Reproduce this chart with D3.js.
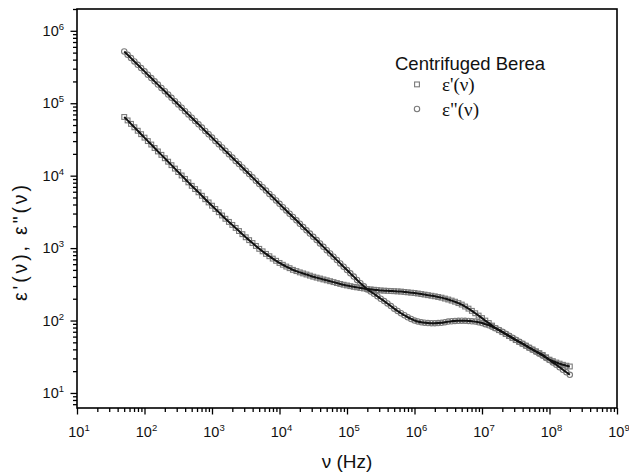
<!DOCTYPE html>
<html><head><meta charset="utf-8">
<script src="https://cdn.jsdelivr.net/npm/d3@7"></script>
<style>body{margin:0;background:#fff}svg{display:block}</style>
</head><body>
<svg id="c" width="629" height="475"></svg>
<script>
// Frequency sweep (Hz)
const freq=[5.01e1,5.62e1,6.31e1,7.08e1,7.94e1,8.91e1,
1.0e2,1.12e2,1.26e2,1.41e2,1.58e2,1.78e2,2.0e2,2.24e2,2.51e2,2.82e2,3.16e2,3.55e2,3.98e2,4.47e2,5.01e2,5.62e2,6.31e2,7.08e2,7.94e2,8.91e2,
1.0e3,1.12e3,1.26e3,1.41e3,1.58e3,1.78e3,2.0e3,2.24e3,2.51e3,2.82e3,3.16e3,3.55e3,3.98e3,4.47e3,5.01e3,5.62e3,6.31e3,7.08e3,7.94e3,8.91e3,
1.0e4,1.12e4,1.26e4,1.41e4,1.58e4,1.78e4,2.0e4,2.24e4,2.51e4,2.82e4,3.16e4,3.55e4,3.98e4,4.47e4,5.01e4,5.62e4,6.31e4,7.08e4,7.94e4,8.91e4,
1.0e5,1.12e5,1.26e5,1.41e5,1.58e5,1.78e5,2.0e5,2.24e5,2.51e5,2.82e5,3.16e5,3.55e5,3.98e5,4.47e5,5.01e5,5.62e5,6.31e5,7.08e5,7.94e5,8.91e5,
1.0e6,1.12e6,1.26e6,1.41e6,1.58e6,1.78e6,2.0e6,2.24e6,2.51e6,2.82e6,3.16e6,3.55e6,3.98e6,4.47e6,5.01e6,5.62e6,6.31e6,7.08e6,7.94e6,8.91e6,
1.0e7,1.12e7,1.26e7,1.41e7,1.58e7,1.78e7,2.0e7,2.24e7,2.51e7,2.82e7,3.16e7,3.55e7,3.98e7,4.47e7,5.01e7,5.62e7,6.31e7,7.08e7,7.94e7,8.91e7,
1.0e8,1.12e8,1.26e8,1.41e8,1.58e8,1.78e8,2.0e8];
// ε'(ν)
const epsReal=[64600,57900,51900,46520,41700,37380,
33500,30020,26900,24100,21600,19390,17400,15590,13960,12520,11220,10060,9020,8080,7240,6530,5890,5280,4730,4270,
3850,3470,3130,2820,2540,2300,2090,1900,1720,1557,1410,1287,1175,1071,977,902,832,772,716,668,
624,589,556,528,501,481,462,447,432,417,403,391,380,369,359,349,339,329,320,312,
305,298,292,287,282,277,272,269,266,263,260,258.5,257,255.5,254,252.5,251,248,245,242.5,
240,236,232,228,224,220,216,211.5,207,201,195,188.5,182,174,166,156,146,136,126,117,
108,99.8,92.3,85.1,78.5,73.7,69.2,65.0,61.0,57.2,53.7,50.7,47.9,45.0,42.2,39.8,37.6,35.5,33.5,31.1,
28.8,27.5,26.3,25.4,24.5,23.8,23.2];
// ε''(ν)
const epsImag=[517600,465800,419800,377800,339600,305600,
275400,247900,222800,200500,180700,162600,146600,131900,118600,106700,96200,86600,77800,70000,63100,56800,51200,46100,41400,37300,
33600,30200,27200,24500,22000,19800,17800,16000,14450,13000,11720,10550,9480,8530,7690,6920,6220,5600,5050,4540,
4080,3670,3310,2980,2690,2420,2170,1950,1760,1585,1430,1290,1160,1040,935,842,759,683,615,553,
498,448,404,363,327,297,269,251,234,216,200,185.5,172,158.5,146,135.6,126,118.3,111,105.4,
100,97.2,94.4,93.3,92.3,92.0,91.8,92.3,92.9,94.7,96.6,97.7,98.9,99.2,99.5,99.2,98.9,97.7,96.6,94.4,
92.3,89.1,86.1,82.2,78.5,74.1,70.0,65.7,61.7,57.9,54.3,51.0,47.9,45.0,42.2,39.6,37.2,34.9,32.7,30.5,
28.5,26.4,24.5,22.6,20.9,19.3,17.8];

const xTickExps=[1,2,3,4,5,6,7,8,9];
const yTickExps=[1,2,3,4,5,6];
const xDomain=[1e1,1e9];
const yDomain=[6.2,2.0e6];
const legendTitle="Centrifuged Berea";
const seriesNames=["ε'(ν)","ε\"(ν)"];
const xTitle="ν (Hz)";
const yTitle="ε'(ν), ε\"(ν)";

const L=77,R=617,T=9,B=408;
const svg=d3.select("#c");
const x=d3.scaleLog().domain(xDomain).range([L,R]);
const y=d3.scaleLog().domain(yDomain).range([B,T]);
const sans="'Liberation Sans', Arial, sans-serif";
const serif="'Liberation Serif', 'Times New Roman', serif";

// minor ticks
const minorX=[],minorY=[];
for(let e=1;e<9;e++)for(let m=2;m<10;m++)minorX.push(m*Math.pow(10,e));
for(let e=0;e<7;e++)for(let m=2;m<10;m++){const v=m*Math.pow(10,e);if(v>=yDomain[0]&&v<=yDomain[1])minorY.push(v);}

function styleAxis(g){g.select(".domain").remove();g.selectAll("line").attr("stroke","#000").attr("stroke-width",1.3);g.selectAll("text").remove();}
svg.append("g").attr("transform",`translate(0,${B})`)
  .call(d3.axisBottom(x).tickValues(minorX).tickSize(4).tickFormat(()=>"")).call(styleAxis);
svg.append("g").attr("transform",`translate(0,${B})`)
  .call(d3.axisBottom(x).tickValues(xTickExps.map(e=>Math.pow(10,e))).tickSize(6.5).tickFormat(()=>"")).call(styleAxis);
svg.append("g").attr("transform",`translate(${L},0)`)
  .call(d3.axisLeft(y).tickValues(minorY).tickSize(4).tickFormat(()=>"")).call(styleAxis);
svg.append("g").attr("transform",`translate(${L},0)`)
  .call(d3.axisLeft(y).tickValues(yTickExps.map(e=>Math.pow(10,e))).tickSize(6.5).tickFormat(()=>"")).call(styleAxis);

// tick labels
xTickExps.forEach(e=>{
  const t=svg.append("text").attr("x",x(Math.pow(10,e))+2).attr("y",437)
    .attr("text-anchor","middle").attr("font-family",sans).attr("font-size",14.5).attr("fill","#111");
  t.append("tspan").text("10");
  t.append("tspan").attr("dy",-6).attr("font-size",9.5).text(e);
});
yTickExps.forEach(e=>{
  const t=svg.append("text").attr("x",64).attr("y",y(Math.pow(10,e))+5)
    .attr("text-anchor","end").attr("font-family",sans).attr("font-size",14.5).attr("fill","#111");
  t.append("tspan").text("10");
  t.append("tspan").attr("dy",-6).attr("font-size",9.5).text(e);
});

// frame
svg.append("rect").attr("x",L).attr("y",T).attr("width",R-L).attr("height",B-T)
  .attr("fill","none").attr("stroke","#000").attr("stroke-width",1.6);

// data
const d1=freq.map((f,i)=>({f,v:epsReal[i]}));
const d2=freq.map((f,i)=>({f,v:epsImag[i]}));
const line=d3.line().x(d=>x(d.f)).y(d=>y(d.v)).curve(d3.curveMonotoneX);
const mk="#7a7a7a";
svg.append("g").selectAll("rect").data(d1).join("rect")
  .attr("x",d=>x(d.f)-2.4).attr("y",d=>y(d.v)-2.4).attr("width",4.8).attr("height",4.8)
  .attr("fill","none").attr("stroke",mk).attr("stroke-width",1.1);
svg.append("g").selectAll("circle").data(d2).join("circle")
  .attr("cx",d=>x(d.f)).attr("cy",d=>y(d.v)).attr("r",2.7)
  .attr("fill","none").attr("stroke",mk).attr("stroke-width",1.1);
[d1,d2].forEach(d=>svg.append("path").datum(d).attr("d",line)
  .attr("fill","none").attr("stroke","#111").attr("stroke-width",2));

// legend
svg.append("text").attr("x",395).attr("y",70).attr("font-family",sans).attr("font-size",18.5)
  .attr("fill","#111").text(legendTitle);
svg.append("rect").attr("x",414.6).attr("y",82).attr("width",4.8).attr("height",4.8)
  .attr("fill","none").attr("stroke",mk).attr("stroke-width",1.1);
svg.append("circle").attr("cx",417).attr("cy",109).attr("r",2.7)
  .attr("fill","none").attr("stroke",mk).attr("stroke-width",1.1);
svg.append("text").attr("x",442).attr("y",91).attr("font-family",serif).attr("font-size",19)
  .attr("fill","#111").text(seriesNames[0]);
svg.append("text").attr("x",442).attr("y",116).attr("font-family",serif).attr("font-size",19)
  .attr("fill","#111").text(seriesNames[1]);

// axis titles
svg.append("text").attr("x",347).attr("y",468).attr("text-anchor","middle")
  .attr("font-family",sans).attr("font-size",19).attr("fill","#111").text(xTitle);
svg.append("text").attr("transform","translate(27,243) rotate(-90)").attr("text-anchor","middle")
  .attr("font-family",sans).attr("font-size",19.5).attr("fill","#111")
  .attr("textLength",116).attr("lengthAdjust","spacing").text(yTitle);
</script>
</body></html>
